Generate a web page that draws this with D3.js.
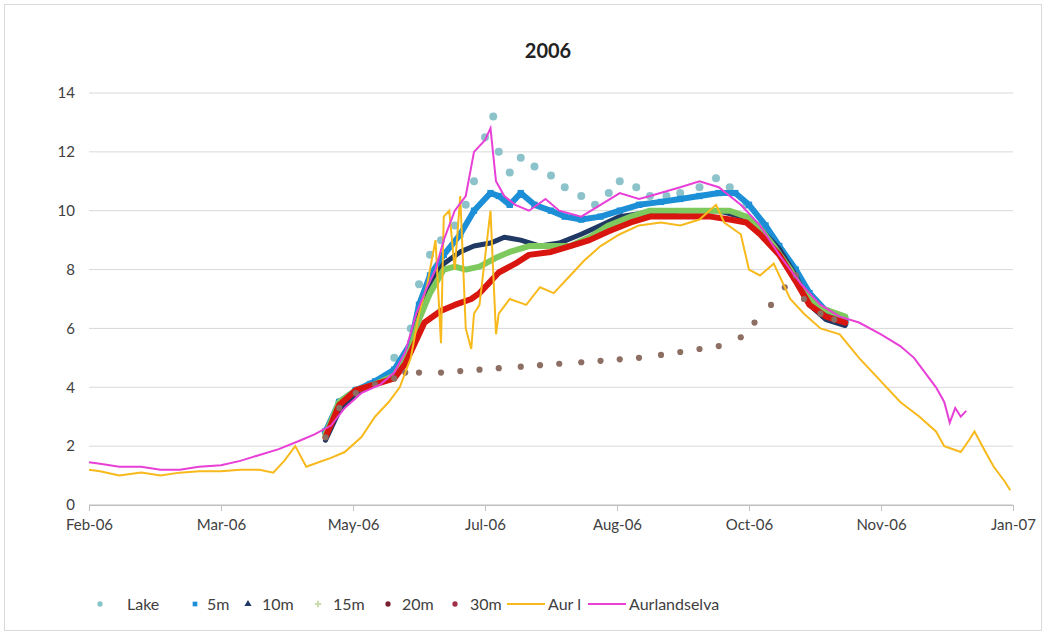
<!DOCTYPE html>
<html><head><meta charset="utf-8">
<script src="https://cdn.jsdelivr.net/npm/d3@7"></script>
<style>body{margin:0;background:#fff;font-family:Lato,"Open Sans",sans-serif;}</style>
</head><body><div id="chart"></div>
<script>
// days counted from 10 Feb 2006
const lakeDays = [86,91,97,102,109,111,117,120,124,128,133,137,140,144,147,149,153,157,162,168,173,179,184,189,193,199,204,210,215,222,228,233,239,244,249,255,260,266,271,275];
const lakeVals = [2.5,3.5,3.9,4.1,4.4,5,6,7.5,8.5,9,9.5,10.2,11,12.5,13.2,12,11.3,11.8,11.5,11.2,10.8,10.5,10.2,10.6,11,10.8,10.5,10.5,10.6,10.8,11.1,10.8,10.2,9.5,8.8,8,7.2,6.6,6.3,6.2];
const m5Days = [86,91,97,104,111,117,120,124,129,135,140,146,149,153,157,162,168,173,179,186,193,200,208,215,222,229,235,240,246,251,257,262,268,275];
const m5Vals = [2.5,3.5,3.9,4.2,4.6,5.5,6.8,7.8,8.5,9.2,10,10.6,10.5,10.2,10.6,10.2,10,9.8,9.7,9.8,10,10.2,10.3,10.4,10.5,10.6,10.6,10.2,9.5,8.8,8,7.2,6.6,6.3];
const m10Days = [86,91,97,104,111,117,120,124,129,135,140,146,151,157,164,171,179,186,193,200,208,215,222,229,237,244,251,257,262,268,275];
const m10Vals = [2.2,3.2,3.8,4.1,4.4,5.2,6.5,7.5,8.2,8.6,8.8,8.9,9.1,9,8.8,8.9,9.2,9.5,9.8,9.9,9.9,10,10,10,9.8,9.4,8.7,7.8,6.8,6.3,6.1];
const m15Days = [86,91,97,104,111,117,120,124,129,133,137,142,148,153,160,168,175,182,189,197,204,211,219,226,233,239,244,249,255,260,266,275];
const m15Vals = [2.4,3.5,3.9,4.1,4.4,5.3,6.3,7.2,8,8.1,8,8.1,8.4,8.6,8.8,8.8,8.8,9.1,9.5,9.8,10,10,10,10,10,9.8,9.4,8.8,8,7.2,6.7,6.4];
const m20Days = [86,91,97,104,111,115,119,122,128,133,139,142,146,149,155,160,168,175,182,189,197,204,211,219,226,233,239,244,251,257,262,268,275];
const m20Vals = [2.3,3.4,3.9,4.1,4.3,4.8,5.6,6.2,6.6,6.8,7,7.2,7.6,7.9,8.2,8.5,8.6,8.8,9,9.3,9.6,9.8,9.8,9.8,9.8,9.7,9.6,9.2,8.5,7.6,6.8,6.4,6.2];
const m30Days = [86,91,97,104,111,115,120,128,135,142,149,157,164,171,179,186,193,200,208,215,222,229,237,242,248,253,257,260,266,271];
const m30Vals = [2.3,3.3,3.8,4.1,4.3,4.5,4.5,4.5,4.55,4.6,4.65,4.7,4.75,4.8,4.85,4.9,4.95,5,5.1,5.2,5.3,5.4,5.7,6.2,6.8,7.4,7.8,7,6.5,6.3];
const aurDays = [0,4,11,19,26,33,40,48,55,62,67,71,75,79,82,88,93,99,104,109,113,117,120,123,126,128,129,131,133,135,137,139,140,142,146,148,149,153,159,164,169,175,180,186,193,200,208,215,222,228,231,237,240,244,249,255,260,266,273,280,288,295,302,308,311,317,320,322,326,329,333,335];
const aurVals = [1.2,1.15,1.0,1.1,1.0,1.1,1.15,1.15,1.2,1.2,1.1,1.5,2.0,1.3,1.4,1.6,1.8,2.3,3,3.5,4,5,6.5,7.5,9,5.5,9.8,10,8,10.5,6,5.3,6.5,6.8,10,5.8,6.5,7,6.8,7.4,7.2,7.8,8.3,8.8,9.2,9.5,9.6,9.5,9.7,10.2,9.6,9.2,8,7.8,8.2,7,6.5,6,5.8,5,4.2,3.5,3,2.5,2,1.8,2.2,2.5,1.8,1.3,0.8,0.5];
const aurlDays = [0,4,11,19,26,33,40,48,55,62,69,77,82,88,93,99,106,111,115,119,122,126,129,133,137,140,144,146,148,151,155,160,166,171,179,186,193,200,204,215,222,229,237,244,251,259,266,273,280,288,295,300,304,308,311,313,315,317,319];
const aurlVals = [1.45,1.4,1.3,1.3,1.2,1.2,1.3,1.35,1.5,1.7,1.9,2.2,2.4,2.7,3.3,3.8,4.1,4.5,5.2,6.5,7.2,8,9,10,10.5,12,12.4,12.8,11,10.5,10.2,10,10.4,10,9.8,10.2,10.6,10.4,10.5,10.8,11,10.8,10.2,9.5,8.5,7.5,6.8,6.4,6.2,5.8,5.4,5,4.5,4,3.5,2.8,3.3,3.0,3.2];
const tickLabels = ["Feb-06","Mar-06","May-06","Jul-06","Aug-06","Oct-06","Nov-06","Jan-07"];
const yTicks = [0,2,4,6,8,10,12,14];

const W = 1047, H = 636;
const start = new Date(2006,1,10);
const dayToDate = d => d3.timeDay.offset(start, d);
const tickDates = tickLabels.map((t,i) => dayToDate(i*48));

const svg = d3.select("#chart").append("svg").attr("width", W).attr("height", H);
svg.append("rect").attr("x",4.5).attr("y",4.5).attr("width",W-10).attr("height",H-10)
  .attr("fill","#fff").attr("stroke","#d9d9d9");

const x = d3.scaleTime().domain([start, dayToDate(336)]).range([89, 1013]);
const y = d3.scaleLinear().domain([0,14]).range([505, 93]);

svg.append("text").attr("x",548).attr("y",58).attr("text-anchor","middle")
  .attr("font-size",20).attr("font-weight","bold").attr("fill","#222").text("2006");

// grid
svg.append("g").selectAll("line").data(yTicks).join("line")
  .attr("x1",89).attr("x2",1013).attr("y1",d=>y(d)).attr("y2",d=>y(d))
  .attr("stroke", d => d===0 ? "#bfbfbf" : "#d9d9d9");

svg.append("g").attr("transform","translate(89,0)")
  .call(d3.axisLeft(y).tickValues(yTicks).tickSize(0).tickPadding(14))
  .call(g => g.select(".domain").remove())
  .selectAll("text").attr("font-size",15).attr("fill","#404040").attr("font-family","Lato,sans-serif");

svg.append("g").attr("transform","translate(0,505)")
  .call(d3.axisBottom(x).tickValues(tickDates).tickSize(6).tickPadding(8)
    .tickFormat((d,i)=>tickLabels[i]))
  .call(g => g.select(".domain").attr("stroke","#bfbfbf"))
  .call(g => g.selectAll("line").attr("stroke","#bfbfbf"))
  .selectAll("text").attr("font-size",15).attr("fill","#404040").attr("font-family","Lato,sans-serif");

const pts = (days, vals) => days.map((d,i)=>({d:dayToDate(d), v:vals[i]}));

// dense marker bands: a thick stroke through the points, then the markers
function band(data, color, w) {
  svg.append("path").datum(data)
    .attr("d", d3.line().x(p=>x(p.d)).y(p=>y(p.v)))
    .attr("fill","none").attr("stroke",color).attr("stroke-width",w)
    .attr("stroke-linejoin","round").attr("stroke-linecap","round");
}
function scatter(data, color, shape, size) {
  const sym = d3.symbol().type(shape).size(size);
  svg.append("g").selectAll("path").data(data).join("path")
    .attr("transform", p => `translate(${x(p.d)},${y(p.v)})`)
    .attr("d", sym).attr("fill", color);
}
function lineSeries(data, color) {
  svg.append("path").datum(data)
    .attr("d", d3.line().x(p=>x(p.d)).y(p=>y(p.v)))
    .attr("fill","none").attr("stroke",color).attr("stroke-width",2);
}

scatter(pts(lakeDays,lakeVals), "#8cc3ca", d3.symbolCircle, 50);
band(pts(m5Days,m5Vals), "#1c8fd6", 6);
scatter(pts(m5Days,m5Vals), "#1c8fd6", d3.symbolSquare, 40);
band(pts(m10Days,m10Vals), "#1f3864", 5);
band(pts(m15Days,m15Vals), "#7dc95e", 6);
band(pts(m20Days,m20Vals), "#d9150f", 6);
scatter(pts(m30Days,m30Vals), "#8d6e63", d3.symbolCircle, 30);
lineSeries(pts(aurDays,aurVals), "#f7b91c");
lineSeries(pts(aurlDays,aurlVals), "#e83fd6");

// legend
const lg = svg.append("g").attr("font-size",16).attr("fill","#404040");
const items = [
  {n:"Lake",c:"#86c6c9",s:d3.symbolCircle,x:100,tx:127},
  {n:"5m",c:"#1c8fd6",s:d3.symbolSquare,x:195,tx:207},
  {n:"10m",c:"#1f3864",s:d3.symbolTriangle,x:248,tx:262},
  {n:"15m",c:"#c9ddb0",s:d3.symbolCross,x:318,tx:333},
  {n:"20m",c:"#7a2030",s:d3.symbolCircle,x:388,tx:402},
  {n:"30m",c:"#a0304a",s:d3.symbolCircle,x:455,tx:470}
];
items.forEach(it=>{
  lg.append("path").attr("transform",`translate(${it.x},604)`)
    .attr("d", d3.symbol().type(it.s).size(22)()).attr("fill",it.c);
  lg.append("text").attr("x",it.tx).attr("y",610).text(it.n);
});
[{n:"Aur l",c:"#f7b91c",x:507},{n:"Aurlandselva",c:"#e83fd6",x:588}].forEach(it=>{
  lg.append("line").attr("x1",it.x).attr("x2",it.x+38).attr("y1",604).attr("y2",604)
    .attr("stroke",it.c).attr("stroke-width",2);
  lg.append("text").attr("x",it.x+41).attr("y",610).text(it.n);
});
</script></body></html>
